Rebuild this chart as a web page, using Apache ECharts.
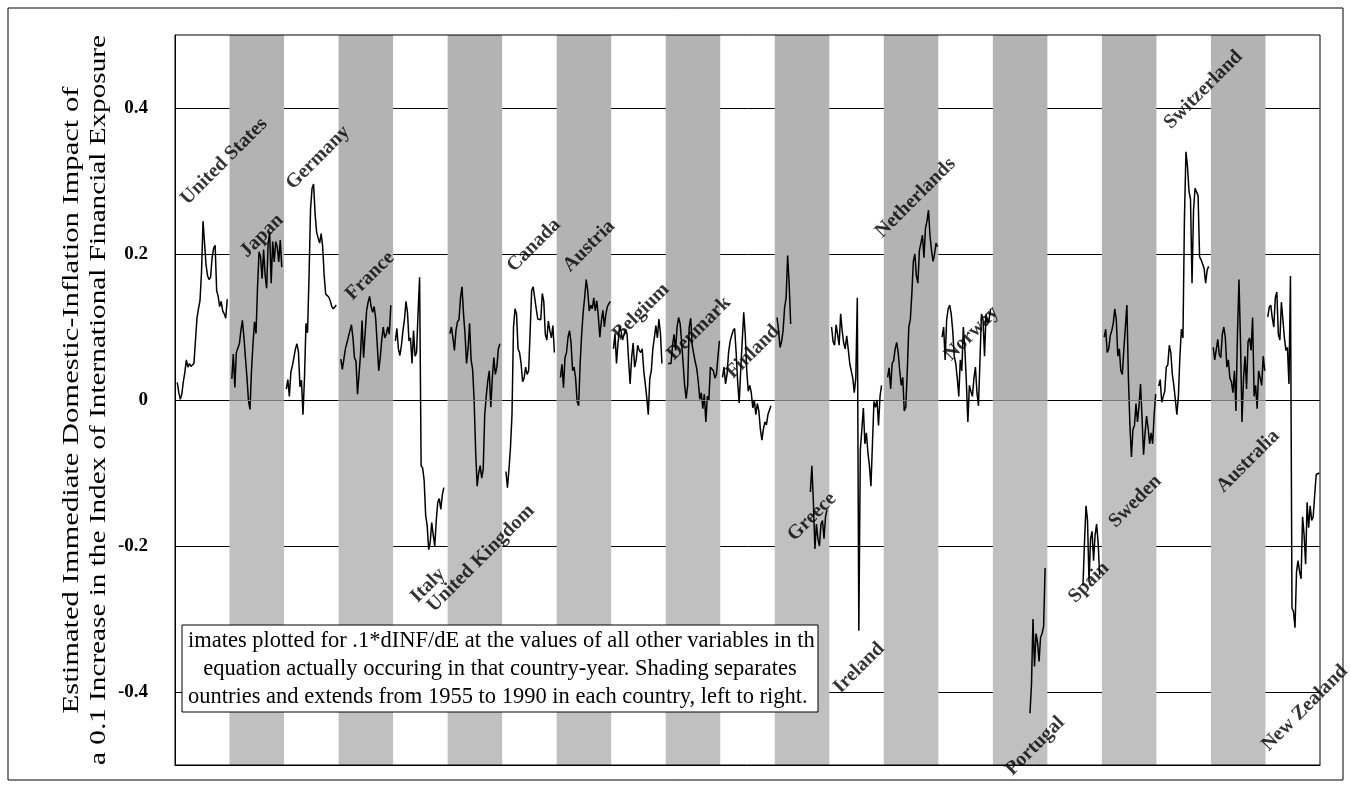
<!DOCTYPE html>
<html><head><meta charset="utf-8">
<script src="https://cdn.jsdelivr.net/npm/echarts@6/dist/echarts.min.js"></script>
<style>html,body{margin:0;padding:0;background:#fff}#c{width:1351px;height:788px}</style>
</head><body><div id="c"></div>
<script>
// Countries in left-to-right order; each gets 36 yearly slots (1955..1990)
const countries = ['United States','Japan','Germany','France','Italy','United Kingdom','Canada','Austria','Belgium','Denmark','Finland','Greece','Ireland','Netherlands','Norway','Portugal','Spain','Sweden','Switzerland','Australia','New Zealand'];
const YEARS = 36;
// index (0 = 1955) of the first value of each country's array
const firstYearIdx = [1,1,1,1,1,1,2,2,1,1,1,1,1,2,2,24,23,1,1,1,1];

const USA = [0.024,0.010,0.001,0.008,0.025,0.038,0.055,0.045,0.050,0.046,0.045,0.050,0.052,0.112,0.125,0.136,0.175,0.245,0.215,0.185,0.170,0.165,0.168,0.195,0.208,0.212,0.150,0.142,0.128,0.135,0.122,0.118,0.112,0.138];
const JPN = [0.029,0.063,0.017,0.065,0.065,0.077,0.095,0.109,0.086,0.058,0.031,-0.001,-0.013,0.040,0.077,0.107,0.091,0.155,0.203,0.196,0.166,0.206,0.171,0.153,0.215,0.229,0.160,0.217,0.189,0.217,0.210,0.189,0.219,0.182];
const DEU = [0.015,0.028,0.005,0.038,0.047,0.058,0.070,0.077,0.066,0.018,0.027,-0.020,0.031,0.105,0.092,0.170,0.262,0.290,0.296,0.255,0.230,0.222,0.215,0.228,0.210,0.170,0.145,0.144,0.141,0.136,0.128,0.125,0.124,0.130];
const FRA = [0.056,0.042,0.040,0.070,0.078,0.078,0.095,0.103,0.085,0.058,0.053,0.008,0.035,0.063,0.109,0.058,0.090,0.122,0.134,0.142,0.128,0.120,0.128,0.112,0.077,0.040,0.058,0.082,0.100,0.085,0.090,0.100,0.090,0.130];
const ITA = [0.081,0.098,0.070,0.061,0.075,0.095,0.110,0.135,0.120,0.081,0.085,0.050,0.095,0.060,0.065,0.120,0.168,-0.090,-0.093,-0.110,-0.158,-0.172,-0.205,-0.195,-0.168,-0.185,-0.200,-0.165,-0.140,-0.135,-0.150,-0.130,-0.120];
const GBR = [0.091,0.100,0.085,0.068,0.095,0.107,0.110,0.140,0.155,0.118,0.090,0.050,0.070,0.105,0.055,0.042,0.000,-0.070,-0.118,-0.100,-0.090,-0.107,-0.095,-0.020,0.005,0.026,0.040,-0.010,0.030,0.058,0.035,0.045,0.070,0.077];
const CAN = [-0.098,-0.120,-0.095,-0.065,-0.020,0.100,0.125,0.118,0.070,0.065,0.050,0.025,0.030,0.045,0.035,0.040,0.095,0.150,0.155,0.140,0.125,0.111,0.110,0.110,0.146,0.135,0.090,0.082,0.108,0.095,0.085,0.102,0.065];
const AUT = [0.031,0.049,0.017,0.058,0.065,0.086,0.095,0.078,0.040,0.045,0.030,-0.002,-0.008,0.050,0.090,0.120,0.141,0.165,0.150,0.122,0.130,0.125,0.140,0.122,0.136,0.115,0.086,0.108,0.123,0.100,0.118,0.128,0.132,0.135];
const BEL = [0.070,0.091,0.050,0.078,0.100,0.095,0.082,0.090,0.097,0.090,0.054,0.022,0.058,0.078,0.045,0.055,0.075,0.068,0.065,0.070,0.040,0.022,0.003,-0.020,0.030,0.040,0.070,0.085,0.102,0.085,0.111,0.092,0.050];
const DNK = [0.050,0.052,0.050,0.075,0.090,0.068,0.100,0.113,0.105,0.080,0.050,0.020,0.002,0.020,0.100,0.112,0.075,0.063,0.052,0.043,0.025,0.001,0.010,-0.012,0.008,-0.030,0.005,0.000,0.045,0.046,0.040,0.030,0.035,0.060,0.081];
const FIN = [0.031,0.045,0.022,0.035,0.065,0.080,0.088,0.095,0.098,0.065,0.025,-0.004,0.040,0.080,0.120,0.090,0.040,0.012,0.020,0.010,-0.011,0.000,-0.020,-0.005,-0.015,-0.040,-0.055,-0.040,-0.030,-0.034,-0.020,-0.018,-0.008];
const GRC = [0.113,0.095,0.072,0.080,0.095,0.127,0.140,0.198,0.160,0.104,null,null,null,null,null,null,null,null,null,null,null,null,-0.126,-0.090,-0.140,-0.204,-0.170,-0.190,-0.200,-0.170,-0.165,-0.190,-0.160,-0.150];
const IRL = [0.100,0.080,0.075,0.103,0.090,0.075,0.118,0.095,0.078,0.070,0.088,0.070,0.050,0.048,0.030,0.010,0.030,0.140,-0.316,-0.068,-0.040,-0.011,-0.060,-0.045,-0.072,-0.090,-0.118,-0.060,-0.002,-0.010,0.000,-0.035,0.005,0.020];
const NLD = [0.031,0.044,0.015,0.050,0.054,0.070,0.079,0.065,0.040,0.020,0.031,-0.015,-0.010,0.040,0.100,0.110,0.145,0.190,0.200,0.170,0.160,0.205,0.215,0.226,0.195,0.235,0.245,0.260,0.225,0.205,0.190,0.200,0.215,0.210];
const NOR = [0.086,0.100,0.055,0.110,0.125,0.130,0.118,0.095,0.060,0.050,0.030,0.005,0.055,0.040,0.100,0.070,0.025,-0.030,0.020,0.012,0.005,0.030,0.045,0.010,-0.008,0.055,0.118,0.110,0.060,0.118,0.105,0.110,0.125];
const PRT = [-0.429,-0.390,-0.300,-0.365,-0.320,-0.332,-0.358,-0.325,-0.320,-0.310,-0.230];
const ESP = [-0.254,-0.195,-0.145,-0.165,-0.250,-0.190,-0.180,-0.220,-0.185,-0.170,-0.195,-0.240];
const SWE = [0.086,0.097,0.065,0.070,0.088,0.095,0.105,0.125,0.110,0.060,0.070,0.040,0.035,0.070,0.070,0.130,0.030,-0.035,-0.078,-0.040,-0.035,-0.005,-0.030,-0.008,0.022,-0.025,-0.075,-0.045,-0.022,-0.038,-0.060,-0.045,-0.060,-0.020,0.008];
const CHE = [0.019,0.028,-0.003,0.005,0.012,0.045,0.048,0.075,0.065,0.035,0.020,0.000,-0.020,0.005,0.060,0.097,0.085,0.250,0.340,0.320,0.286,0.275,0.160,0.260,0.290,0.292,0.280,0.196,0.192,0.190,0.180,0.160,0.178,0.183];
const AUS = [0.072,0.055,0.055,0.083,0.062,0.058,0.090,0.100,0.085,0.045,0.055,0.030,0.025,0.010,0.040,-0.015,0.090,0.165,0.080,-0.030,0.030,0.060,0.015,0.080,0.085,0.068,0.113,0.005,0.020,-0.012,0.040,0.030,0.020,0.060,0.040];
const NZL = [0.114,0.127,0.130,0.112,0.100,0.140,0.148,0.090,0.082,0.134,0.110,0.085,0.068,0.072,0.022,0.170,-0.285,-0.290,-0.312,-0.235,-0.220,-0.235,-0.245,-0.160,-0.185,-0.225,-0.140,-0.175,-0.145,-0.165,-0.160,-0.130,-0.102,-0.100,-0.100];

const seriesValues = [USA,JPN,DEU,FRA,ITA,GBR,CAN,AUT,BEL,DNK,FIN,GRC,IRL,NLD,NOR,PRT,ESP,SWE,CHE,AUS,NZL];

// Country-name annotation anchors (in data units: x = year slot, y = value)
const labelX = [32.4,57.4,94.4,128.8,167,202,237,273.4,307.7,346,381.6,420.6,451.7,489,526,567.9,603.5,634,679,708.5,746];
const labelY = [0.327,0.225,0.332,0.170,-0.254,-0.217,0.212,0.211,0.121,0.098,0.066,-0.160,-0.367,0.277,0.091,-0.474,-0.250,-0.139,0.425,-0.084,-0.422];

const yTitleLines = ['Estimated Immediate Domestic-Inflation Impact of','a 0.1 Increase in the Index of International Financial Exposure'];
const noteLines = ['imates plotted for .1*dINF/dE at the values of all other variables in th','equation actually occuring in that country-year. Shading separates','ountries and extends from 1955 to 1990 in each country, left to right.'];

const FONT = '"Liberation Serif","Times New Roman",serif';
const chart = echarts.init(document.getElementById('c'), null, {renderer:'canvas'});

const series = [];
// shading bands: every second country
const upper = [], lower = [], zeroSegs = [];
for (let i = 1; i < countries.length; i += 2) {
  upper.push([{xAxis: i*YEARS, yAxis: 0}, {xAxis: (i+1)*YEARS, yAxis: 0.5}]);
  lower.push([{xAxis: i*YEARS, yAxis: -0.5}, {xAxis: (i+1)*YEARS, yAxis: 0}]);
  zeroSegs.push([{coord:[i*YEARS, 0]}, {coord:[(i+1)*YEARS, 0]}]);
}
series.push({type:'line', data:[], silent:true, z:1,
  markArea:{silent:true, itemStyle:{color:'#b3b3b3'}, data: upper},
});
series.push({type:'line', data:[], silent:true, z:1,
  markArea:{silent:true, itemStyle:{color:'#c0c0c0'}, data: lower},
  markLine:{silent:true, symbol:'none', label:{show:false}, lineStyle:{color:'#7a7a7a', width:1, type:'solid'}, data: zeroSegs}
});
seriesValues.forEach((vals, i) => {
  const data = vals.map((v, k) => [i*YEARS + firstYearIdx[i] + k + 0.5, v == null ? '-' : v]);
  series.push({type:'line', name: countries[i], data, showSymbol:false, symbol:'none', z:3,
    lineStyle:{color:'#000', width:1.5}, connectNulls:false, silent:true});
});
series.push({type:'scatter', symbolSize:0, z:5, silent:true,
  data: countries.map((c, i) => ({value:[labelX[i], labelY[i]], name:c})),
  label:{show:true, position:'inside', formatter: p => p.name, rotate:45, color:'#000',
    fontFamily:FONT, fontWeight:'bold', fontSize:20, align:'center', verticalAlign:'middle'}
});

chart.setOption({
  animation:false,
  backgroundColor:'#fff',
  grid:{left:175, right:31, top:35, bottom:23, show:false},
  xAxis:{type:'value', min:0, max:YEARS*countries.length, axisLine:{onZero:false, lineStyle:{color:'#000'}},
    axisTick:{show:false}, axisLabel:{show:false}, splitLine:{show:false}},
  yAxis:{type:'value', min:-0.5, max:0.5, interval:0.1,
    axisLine:{show:true, lineStyle:{color:'#000'}}, axisTick:{show:false},
    axisLabel:{margin:27, fontFamily:FONT, fontWeight:'bold', fontSize:19, color:'#000',
      formatter: v => { const t = Math.round(v*10); if (Math.abs(t)%2 !== 0 || Math.abs(t) === 5) return ''; return t === 0 ? '0' : (t/10).toFixed(1); }},
    splitLine:{show:true, lineStyle:{color:['transparent','#000'], width:1}}
  },
  graphic:[
    {type:'rect', z:100, silent:true, shape:{x:175, y:35, width:1145, height:730}, style:{fill:null, stroke:'#000', lineWidth:1}},
    {type:'rect', z:100, silent:true, shape:{x:8, y:8, width:1335, height:772}, style:{fill:null, stroke:'#000', lineWidth:1}},
    {type:'text', z:100, silent:true, x:72, y:400, rotation:Math.PI/2, scaleX:1.33,
      style:{text:yTitleLines[0], font:'23px '+FONT, fill:'#000', textAlign:'center', textVerticalAlign:'middle'}},
    {type:'text', z:100, silent:true, x:99, y:400, rotation:Math.PI/2, scaleX:1.27,
      style:{text:yTitleLines[1], font:'23px '+FONT, fill:'#000', textAlign:'center', textVerticalAlign:'middle'}},
    {type:'rect', z:110, silent:true, shape:{x:182, y:625, width:636, height:87}, style:{fill:'#fff', stroke:'#000', lineWidth:1}},
    {type:'text', z:111, silent:true, x:188, y:641, style:{text:noteLines[0], font:'22.5px '+FONT, fill:'#000', textAlign:'left', textVerticalAlign:'middle'}},
    {type:'text', z:111, silent:true, x:500, y:669, style:{text:noteLines[1], font:'22.5px '+FONT, fill:'#000', textAlign:'center', textVerticalAlign:'middle'}},
    {type:'text', z:111, silent:true, x:188, y:697, style:{text:noteLines[2], font:'22.5px '+FONT, fill:'#000', textAlign:'left', textVerticalAlign:'middle'}}
  ],
  series
});
</script></body></html>
